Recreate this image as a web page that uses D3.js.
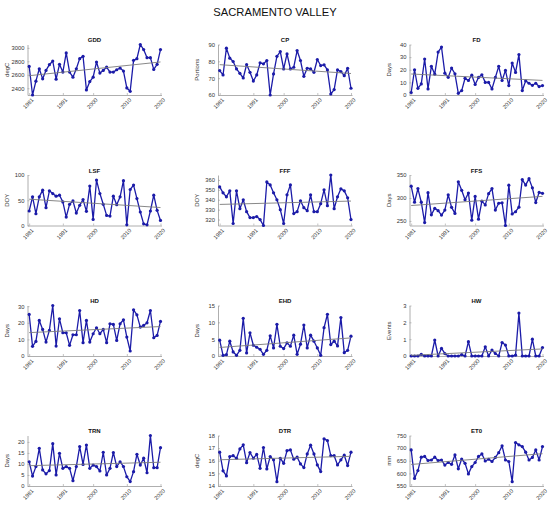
<!DOCTYPE html>
<html><head><meta charset="utf-8">
<script src="https://cdn.jsdelivr.net/npm/d3@7"></script>
<style>
body{margin:0;background:#fff}
svg{display:block;font-family:"Liberation Sans",Arial,Helvetica,sans-serif}
</style>
</head><body>
<svg id="chart" width="550" height="506"></svg>
<script>
// ---------- data ----------
const chartTitle = "SACRAMENTO VALLEY";
const years = d3.range(1981, 2021);
const xTickValues = [1981, 1991, 2000, 2010, 2020];
const xTickLabels = ["1981", "1991", "2000", "2010", "2020"];

const panelNames = ["GDD","CP","FD","LSF","FFF","FFS","HD","EHD","HW","TRN","DTR","ET0"];
const panelUnits = ["degC","Portions","Days","DOY","DOY","Days","Days","Days","Events","Days","degC","mm"];

const GDD = [2725,2300,2505,2690,2540,2665,2750,2805,2535,2755,2640,2925,2640,2565,2690,2840,2875,2375,2500,2565,2790,2625,2665,2715,2640,2640,2675,2700,2655,2405,2355,2815,2840,3050,2975,2855,2855,2680,2755,2975];
const CP = [74.5,71.9,87.8,81.9,79.9,75.5,72.9,70.1,78.1,73.5,68.3,71.9,79.1,78.5,80.5,60,72.5,83,85.8,75.5,84.4,75.5,76.5,86.4,80.5,71.1,75.9,75.5,73.5,81.1,77.5,77.9,74.9,60.6,63.2,74.9,73.9,71.5,75.9,64];
const FD = [2,20,5.3,8.8,28.5,4.8,22.7,16.5,34,38,17.3,14,21.3,16.8,1.3,3.5,13.3,11.5,15.7,8.3,13.9,16,10,10,4.8,13.9,22.7,11.5,19.5,7.5,25.3,17.9,32,3.5,11.2,9.3,7.7,9.3,6.7,7.5];
const LSF = [28.7,56.7,23.3,56.7,70,35.3,68.7,63.3,58,60,46.7,16.7,42,48.7,24.7,40,51.3,28,78,12,90,63.3,42,20,18.7,58,41.3,56.7,88.7,1.3,71.3,80,53.3,26.7,3.3,1.3,28.7,60,30,10];
const FFF = [353,347,343,349,316,349,331,340,328,322,322,323,320,314,358,355,347,340,330,316,345,355,326,328,339,332,329,345,328,328,336,350,334,365,331,343,351,349,342,320];
const FFS = [325.6,290.7,320.4,290.7,246.3,311.5,263.3,277.4,272.2,262.6,273.7,307,279.6,266.3,335.2,316.7,296,310.7,251.5,303.3,253.7,293,284.8,309.3,320.4,273.7,288.5,289.3,240,327.8,265,270,280,340,328,342,322,290,312,310];
const HD = [25,5.8,8.8,21.4,16,8.4,15.4,30.4,6,22.4,14,14,6.4,12.8,12.8,27.4,8,21.4,8.4,13.4,17,13.4,16,8,19.4,19,9.4,19.4,21.8,11.4,3,27.8,24.8,17.4,18.4,20,27.4,11,12.4,20.8];
const EHD = [4.7,0.2,0.4,4.4,1.2,0.2,1.7,11.2,0.9,6.9,3.2,2.6,2,0.5,1.7,6,2.4,9.4,2.9,2.2,3.9,2.9,6.2,0.5,3.5,9.2,2.4,6.2,4.4,2.4,0.2,8.4,12.4,3.4,4.4,3,11.4,1,1.7,5.9];
const HW = [0,0,0,0.1,0,0,0,0.95,0,0.45,0.15,0,0,0,0,0.08,0,0.85,0,0,0,0,0.55,0,0.35,0.15,0,0.8,0.65,0,0,0.05,2.55,0,0,0,1.0,0,0,0.5];
const TRN = [11,4.5,8.8,17.1,7.3,5.5,7,19.2,5,14.8,8,8.8,8,2.4,8.8,17.9,9.8,18.6,8,9.5,8.8,6.8,15.3,5,8,15.2,8.8,11,8.8,4.2,2,6.5,14.4,9.5,12.6,6,22.9,8.3,8.3,17.4];
const DTR = [16.68,15.2,14.8,16.33,16.4,16.2,16.94,17.26,15.85,16.65,16.2,16.5,15.4,17.05,15.35,16.33,16.07,14.34,16.2,15.8,16.8,16.86,16.12,16.28,15.75,15.46,16.54,17.23,16.54,15.67,15.14,17.74,17.6,16.4,16.4,15.67,16.07,16.44,15.62,16.68];
const ET0 = [693,580,611,664,667,651,653,664,651,653,633,643,636,673,618,657,640,598,627,643,667,677,649,656,647,663,682,709,653,647,567,722,713,706,684,653,663,693,653,706];

const panelSeries = [GDD, CP, FD, LSF, FFF, FFS, HD, EHD, HW, TRN, DTR, ET0];
const yDomains = [[2300,3050],[60,90],[0,40],[0,100],[314,365],[240,350],[0,30.4],[0,15],[0,3],[0,22.9],[14,18],[550,750]];
const yTickValues = [
  [2400,2600,2800,3000],[60,70,80,90],[0,10,20,30,40],[0,50,100],
  [320,330,340,350,360],[250,300,350],[0,10,20,30],[0,5,10,15],
  [0,1,2,3],[0,5,10,15,20],[14,15,16,17,18],[550,600,650,700,750]
];

// ---------- layout ----------
const colX = [27.5, 218, 409.5];
const rowY = [44.5, 175, 305.5, 435.5];
const W = 134, H = 50.5;
const lineColor = "#1b1ba8";
const trendColor = "#7a7a7a";
const axisColor = "#9a9a9a";
const textColor = "#333";

const svg = d3.select("#chart");

svg.append("text")
  .attr("x", 275).attr("y", 16)
  .attr("text-anchor", "middle")
  .attr("font-size", 11.2)
  .attr("fill", "#111")
  .text(chartTitle);

function linReg(xs, ys) {
  const mx = d3.mean(xs), my = d3.mean(ys);
  let sxy = 0, sxx = 0;
  xs.forEach((x, i) => { sxy += (x - mx) * (ys[i] - my); sxx += (x - mx) * (x - mx); });
  const b = sxy / sxx;
  return { a: my - b * mx, b };
}

panelNames.forEach((name, i) => {
  const col = i % 3, row = Math.floor(i / 3);
  const X0 = colX[col], Y0 = rowY[row];
  const vals = panelSeries[i];
  const data = years.map((yr, k) => ({ year: yr, v: vals[k] }));

  const x = d3.scaleLinear().domain([1980.5, 2020.3]).range([X0, X0 + W]);
  const y = d3.scaleLinear().domain(yDomains[i]).range([Y0 + H, Y0]);

  const g = svg.append("g");

  // y axis
  const ya = g.append("g").attr("transform", `translate(${X0},0)`)
    .call(d3.axisLeft(y).tickValues(yTickValues[i]).tickFormat(d => String(d))
      .tickSizeInner(-2).tickSizeOuter(0).tickPadding(3));
  ya.select(".domain").attr("stroke", axisColor).attr("stroke-width", 0.8);
  ya.selectAll(".tick line").attr("stroke", axisColor).attr("stroke-width", 0.6);
  ya.selectAll(".tick text").attr("font-size", 5.8).attr("fill", textColor)
    .attr("font-family", "Liberation Sans, Arial, sans-serif");

  // x axis
  const xa = g.append("g").attr("transform", `translate(0,${Y0 + H})`)
    .call(d3.axisBottom(x).tickValues(xTickValues).tickFormat((d, k) => xTickLabels[k])
      .tickSizeInner(-2).tickSizeOuter(0));
  xa.select(".domain").attr("stroke", axisColor).attr("stroke-width", 0.8);
  xa.selectAll(".tick line").attr("stroke", axisColor).attr("stroke-width", 0.6);
  xa.selectAll(".tick text")
    .attr("font-size", 5.6).attr("fill", textColor)
    .attr("font-family", "Liberation Sans, Arial, sans-serif")
    .attr("y", 0).attr("dy", "0.35em")
    .attr("text-anchor", "end")
    .attr("transform", "translate(3,4) rotate(-45)");

  // data line
  g.append("path").datum(data)
    .attr("fill", "none").attr("stroke", lineColor).attr("stroke-width", 1.3)
    .attr("stroke-linejoin", "round")
    .attr("d", d3.line().x(d => x(d.year)).y(d => y(d.v)));
  g.selectAll("circle.pt").data(data).join("circle")
    .attr("class", "pt")
    .attr("cx", d => x(d.year)).attr("cy", d => y(d.v)).attr("r", 1.6)
    .attr("fill", lineColor);

  // trend line
  const fit = linReg(years, vals);
  const ends = [years[0], years[years.length - 1]].map(yr => ({ year: yr, v: fit.a + fit.b * yr }));
  g.append("path").datum(ends)
    .attr("fill", "none").attr("stroke", trendColor).attr("stroke-width", 0.9)
    .attr("d", d3.line().x(d => x(d.year)).y(d => y(d.v)));

  // panel title
  g.append("text")
    .attr("x", X0 + W / 2).attr("y", Y0 - 2.5)
    .attr("text-anchor", "middle").attr("font-size", 6).attr("font-weight", "bold")
    .attr("fill", "#111")
    .text(name);

  // y label
  g.append("text")
    .attr("transform", `translate(${X0 - 19},${Y0 + H / 2}) rotate(-90)`)
    .attr("text-anchor", "middle").attr("font-size", 6).attr("fill", textColor)
    .text(panelUnits[i]);
});
</script>
</body></html>
